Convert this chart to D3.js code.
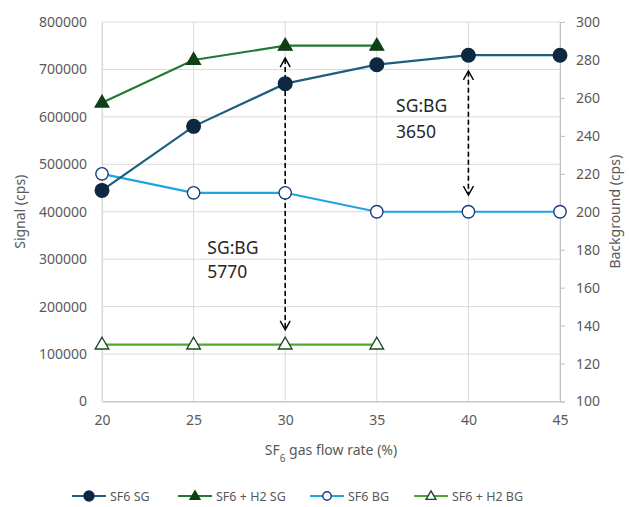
<!DOCTYPE html>
<html>
<head>
<meta charset="utf-8">
<script src="https://cdn.jsdelivr.net/npm/d3@7"></script>
<style>
  html, body { margin: 0; padding: 0; background: #fff; }
  svg { display: block; font-family: "Noto Sans", "Open Sans", sans-serif; }
</style>
</head>
<body>
<svg id="chart" width="629" height="507"></svg>
<script>
// Flow rates (%)
const flowRates = [20, 25, 30, 35, 40, 45];
const flowRatesH2 = [20, 25, 30, 35];

// Signal series (left axis, cps)
const sf6Signal = [445000, 580000, 670000, 710000, 730000, 730000];
const sf6H2Signal = [630000, 720000, 750000, 750000];

// Background series (right axis, cps)
const sf6Background = [220, 210, 210, 200, 200, 200];
const sf6H2Background = [130, 130, 130, 130];

// Tick labels
const xTicks = [20, 25, 30, 35, 40, 45];
const leftTicks = [0, 100000, 200000, 300000, 400000, 500000, 600000, 700000, 800000];
const rightTicks = [100, 120, 140, 160, 180, 200, 220, 240, 260, 280, 300];

// SG:BG ratio annotations (arrows span on the signal axis)
const ratioNotes = [
  { x: 30, top: 724000, bottom: 151000, label: ["SG:BG", "5770"], labelX: 25.75, labelY: [310000, 260000] },
  { x: 40, top: 697000, bottom: 435000, label: ["SG:BG", "3650"], labelX: 36.05, labelY: [610000, 555000] }
];

const svg = d3.select("#chart");
const plotL = 102, plotR = 560, plotT = 22, plotB = 401.5;

const x = d3.scaleLinear().domain([20, 45]).range([plotL, plotR]);
const yL = d3.scaleLinear().domain([0, 800000]).range([plotB, plotT]);
const yR = d3.scaleLinear().domain([100, 300]).range([plotB, plotT]);

const gridColor = "#d9d9d9";
const tickColor = "#595959";

// Gridlines
svg.append("g").selectAll("line").data(leftTicks).join("line")
  .attr("x1", plotL).attr("x2", plotR)
  .attr("y1", d => yL(d)).attr("y2", d => yL(d))
  .attr("stroke", gridColor).attr("stroke-width", 1);
svg.append("g").selectAll("line").data(xTicks).join("line")
  .attr("x1", d => x(d)).attr("x2", d => x(d))
  .attr("y1", plotT).attr("y2", plotB)
  .attr("stroke", gridColor).attr("stroke-width", 1);

// Axes
const xAxis = svg.append("g").attr("transform", `translate(0,${plotB})`)
  .call(d3.axisBottom(x).tickValues(xTicks).tickSize(0).tickPadding(14));
const yAxisL = svg.append("g").attr("transform", `translate(${plotL},0)`)
  .call(d3.axisLeft(yL).tickValues(leftTicks).tickSize(0).tickPadding(15).tickFormat(d3.format("d")));
const yAxisR = svg.append("g").attr("transform", `translate(${plotR},0)`)
  .call(d3.axisRight(yR).tickValues(rightTicks).tickSize(5).tickPadding(11));

[xAxis, yAxisL, yAxisR].forEach(g => {
  g.selectAll("text").attr("fill", tickColor).style("font-size", "14px")
    .style("font-family", "'Noto Sans', sans-serif");
  g.selectAll(".tick line").attr("stroke", "#bfbfbf");
});
xAxis.select(".domain").attr("stroke", "#bfbfbf").attr("stroke-width", 1.2);
yAxisL.select(".domain").attr("stroke", gridColor);
yAxisR.select(".domain").attr("stroke", "#bfbfbf");

// Axis titles
svg.append("text")
  .attr("transform", `translate(25,${(plotT + plotB) / 2}) rotate(-90)`)
  .attr("text-anchor", "middle").attr("fill", tickColor).style("font-size", "14px")
  .text("Signal (cps)");
svg.append("text")
  .attr("transform", `translate(620,${(plotT + plotB) / 2}) rotate(-90)`)
  .attr("text-anchor", "middle").attr("fill", tickColor).style("font-size", "14px")
  .text("Background (cps)");
const xt = svg.append("text")
  .attr("x", (plotL + plotR) / 2).attr("y", 455)
  .attr("text-anchor", "middle").attr("fill", tickColor).style("font-size", "14px");
xt.append("tspan").text("SF");
xt.append("tspan").attr("baseline-shift", "sub").style("font-size", "10px").text("6");
xt.append("tspan").text(" gas flow rate (%)");

// Series definitions
const series = [
  { name: "SF6 SG", xs: flowRates, ys: sf6Signal, scale: yL, line: "#1d5e80", marker: "circle", fill: "#0e2841", stroke: "#0e2841" },
  { name: "SF6 + H2 SG", xs: flowRatesH2, ys: sf6H2Signal, scale: yL, line: "#1f7a33", marker: "triangle", fill: "#0f3f14", stroke: "#0f3f14" },
  { name: "SF6 BG", xs: flowRates, ys: sf6Background, scale: yR, line: "#21a3e0", marker: "circle", fill: "#fff", stroke: "#1a3a7a" },
  { name: "SF6 + H2 BG", xs: flowRatesH2, ys: sf6H2Background, scale: yR, line: "#4ea72e", marker: "triangle", fill: "#fff", stroke: "#1e4a22" }
];

const tri = d3.symbol().type(d3.symbolTriangle);
function drawMarker(g, s, cx, cy, big) {
  if (s.marker === "circle") {
    const r = s.fill === "#fff" ? (big ? 6.2 : 4.2) : (big ? 6.8 : 5);
    g.append("circle").attr("cx", cx).attr("cy", cy).attr("r", r)
      .attr("fill", s.fill).attr("stroke", s.stroke).attr("stroke-width", 1.4);
  } else {
    g.append("path").attr("d", tri.size(big ? 80 : 42)())
      .attr("transform", `translate(${cx},${cy + (big ? 0.5 : 0.5)})`)
      .attr("fill", s.fill).attr("stroke", s.stroke).attr("stroke-width", 1.4);
  }
}

// Lines (drawn in reverse so signal lines sit on top)
series.slice().reverse().forEach(s => {
  const pts = s.xs.map((v, i) => [v, s.ys[i]]);
  svg.append("path").datum(pts)
    .attr("fill", "none").attr("stroke", s.line).attr("stroke-width", 2.2)
    .attr("d", d3.line().x(d => x(d[0])).y(d => s.scale(d[1])));
});

// Annotation arrows
const ann = svg.append("g");
ratioNotes.forEach(n => {
  const ax = x(n.x), y1 = yL(n.top), y2 = yL(n.bottom);
  ann.append("line").attr("x1", ax).attr("x2", ax).attr("y1", y1 + 1).attr("y2", y2 - 1)
    .attr("stroke", "#000").attr("stroke-width", 1.6).attr("stroke-dasharray", "5,3");
  ann.append("path").attr("d", `M${ax - 5},${y1 + 9}L${ax},${y1}L${ax + 5},${y1 + 9}`)
    .attr("fill", "none").attr("stroke", "#000").attr("stroke-width", 1.4);
  ann.append("path").attr("d", `M${ax - 5},${y2 - 9}L${ax},${y2}L${ax + 5},${y2 - 9}`)
    .attr("fill", "none").attr("stroke", "#000").attr("stroke-width", 1.4);
  n.label.forEach((t, i) => {
    ann.append("text").attr("x", x(n.labelX)).attr("y", yL(n.labelY[i]))
      .attr("fill", "#262626").style("font-size", "17.5px").text(t);
  });
});

// Markers
series.slice().reverse().forEach(s => {
  const g = svg.append("g");
  s.xs.forEach((v, i) => drawMarker(g, s, x(v), s.scale(s.ys[i]), true));
});

// Legend
const legendX = [72, 178, 310, 414];
const legend = svg.append("g");
series.forEach((s, i) => {
  const lx = legendX[i], ly = 496;
  legend.append("line").attr("x1", lx).attr("x2", lx + 34).attr("y1", ly).attr("y2", ly)
    .attr("stroke", s.line).attr("stroke-width", 2.2);
  drawMarker(legend, s, lx + 17, ly, false);
  legend.append("text").attr("x", lx + 38).attr("y", ly + 4.5)
    .attr("fill", tickColor).style("font-size", "12.5px").text(s.name);
});
</script>
</body>
</html>
